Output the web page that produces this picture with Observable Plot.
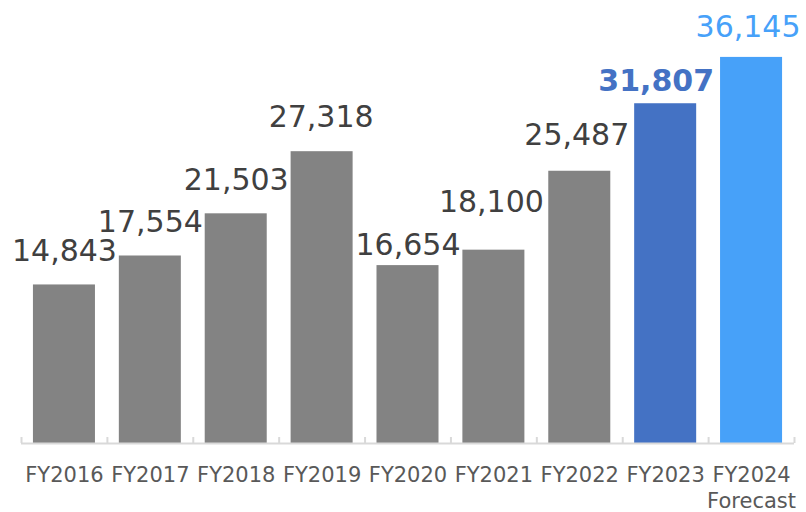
<!DOCTYPE html>
<html>
<head>
<meta charset="utf-8">
<script src="https://cdn.jsdelivr.net/npm/d3@7"></script>
<script src="https://cdn.jsdelivr.net/npm/@observablehq/plot@0.6"></script>
<style>
  html, body { margin: 0; padding: 0; background: #fff; }
  #chart { width: 806px; height: 512px; }
  svg { display: block; }
</style>
</head>
<body>
<div id="chart"></div>
<script>
// ---- data ----
const categories = ["FY2016", "FY2017", "FY2018", "FY2019", "FY2020", "FY2021", "FY2022", "FY2023", "FY2024"];
const values = [14843, 17554, 21503, 27318, 16654, 18100, 25487, 31807, 36145];
const tickLabels = ["FY2016", "FY2017", "FY2018", "FY2019", "FY2020", "FY2021", "FY2022", "FY2023", "FY2024\nForecast"];

// ---- presentation ----
const barColors = ["#838383", "#838383", "#838383", "#838383", "#838383", "#838383", "#838383", "#4472c4", "#47a1f9"];
const labelColors = ["#404040", "#404040", "#404040", "#404040", "#404040", "#404040", "#404040", "#4472c4", "#47a1f9"];
const labelWeights = ["normal", "normal", "normal", "normal", "normal", "normal", "normal", "bold", "normal"];
const labelGap = [24, 24, 24, 25, 11, 38, 26, 13, 20];
const labelShift = [0, 0, 0, -1, 0, -2.5, -3, -9.5, -3.5];

const rows = categories.map((c, i) => ({
  cat: c, value: values[i], tick: tickLabels[i],
  bar: barColors[i], color: labelColors[i], weight: labelWeights[i],
  gap: labelGap[i], shift: labelShift[i]
}));

const W = 806, H = 512, ML = 21, MR = 12;
const step = (W - ML - MR) / categories.length;
const font = "DejaVu Sans";

const labelMarks = rows.map(r => Plot.text([r], {
  x: "cat", y: "value",
  text: d => d3.format(",")(d.value),
  lineAnchor: "bottom",
  dy: -r.gap, dx: r.shift,
  fill: r.color, fontWeight: r.weight,
  fontSize: 30, fontFamily: font
}));

const chart = Plot.plot({
  width: W, height: H,
  marginLeft: ML, marginRight: MR, marginTop: 20, marginBottom: 69,
  style: { fontFamily: font, background: "#fff" },
  x: { domain: categories, paddingInner: 0.278, paddingOuter: 0.139, round: false, label: null },
  y: { domain: [0, 39600], axis: null },
  marks: [
    Plot.barY(rows, { x: "cat", y: "value", fill: "bar" }),
    Plot.ruleY([0], { stroke: "#d9d9d9", strokeWidth: 2 }),
    Plot.ruleX(rows, { x: "cat", y1: 0, y2: 560, dx: -step / 2, stroke: "#d9d9d9", strokeWidth: 2 }),
    Plot.ruleX(rows.slice(-1), { x: "cat", y1: 0, y2: 560, dx: step / 2, stroke: "#d9d9d9", strokeWidth: 2 }),
    Plot.axisX({
      tickSize: 0, tickPadding: 21,
      tickFormat: d => tickLabels[categories.indexOf(d)],
      fontSize: 21, fill: "#595959", lineHeight: 1.2, label: null
    }),
    ...labelMarks
  ]
});
document.getElementById("chart").appendChild(chart);
</script>
</body>
</html>
